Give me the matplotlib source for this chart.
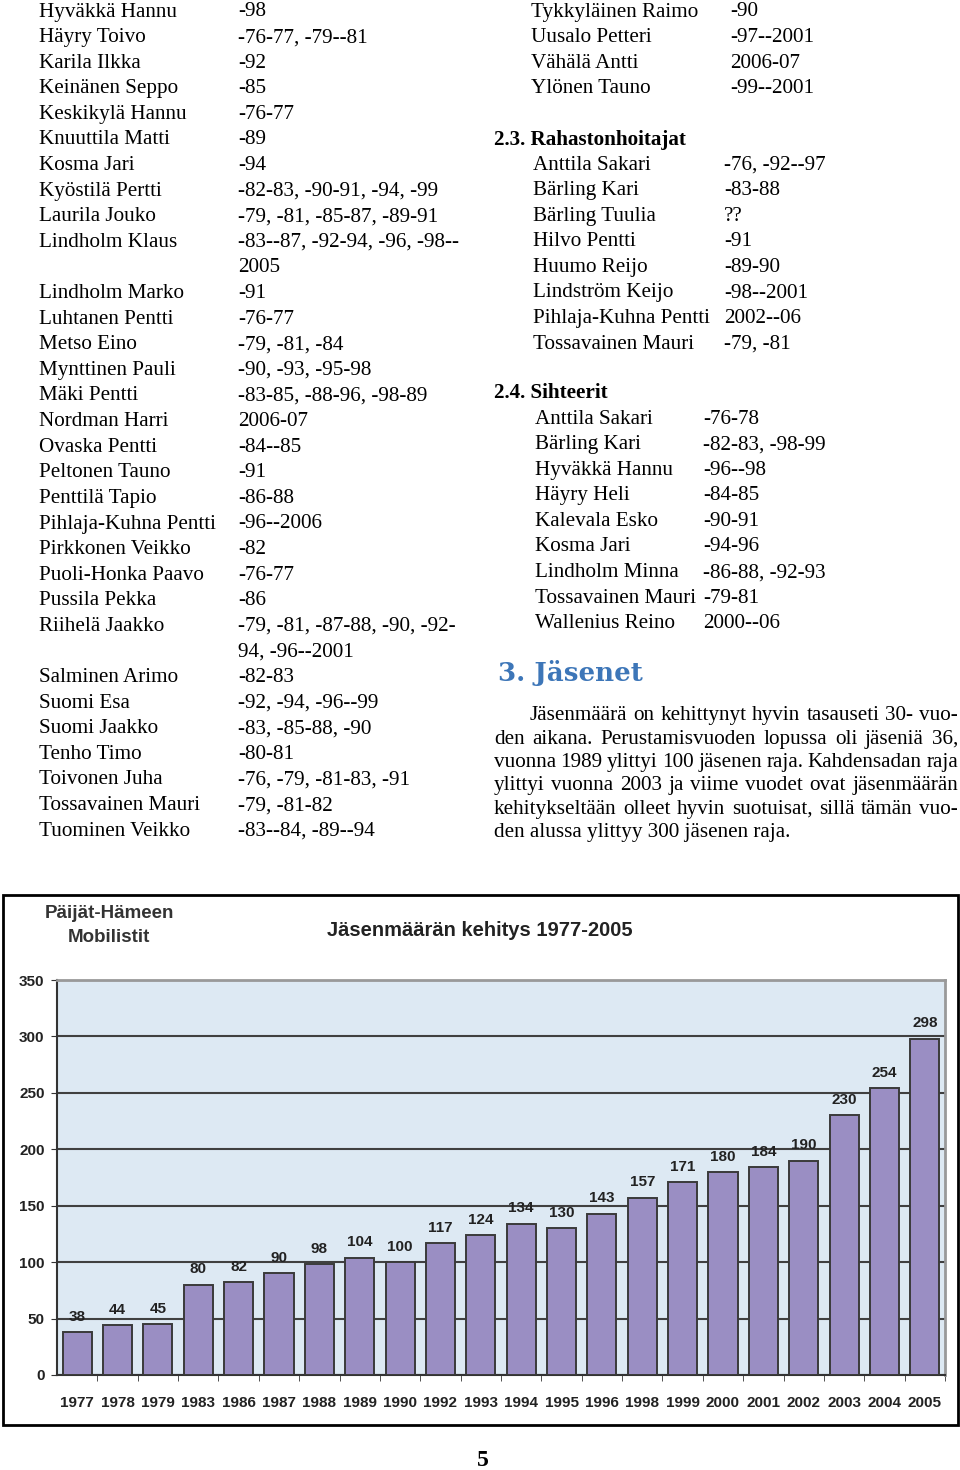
import matplotlib
matplotlib.use("Agg")
import matplotlib.pyplot as plt
from matplotlib.patches import Rectangle
from matplotlib.font_manager import FontProperties

W, H = 960, 1470

# --- page text -------------------------------------------------------------
members_names = ["Hyväkkä Hannu", "Häyry Toivo", "Karila Ilkka", "Keinänen Seppo",
                 "Keskikylä Hannu", "Knuuttila Matti", "Kosma Jari", "Kyöstilä Pertti",
                 "Laurila Jouko", "Lindholm Klaus", "", "Lindholm Marko", "Luhtanen Pentti",
                 "Metso Eino", "Mynttinen Pauli", "Mäki Pentti", "Nordman Harri",
                 "Ovaska Pentti", "Peltonen Tauno", "Penttilä Tapio", "Pihlaja-Kuhna Pentti",
                 "Pirkkonen Veikko", "Puoli-Honka Paavo", "Pussila Pekka", "Riihelä Jaakko", "",
                 "Salminen Arimo", "Suomi Esa", "Suomi Jaakko", "Tenho Timo", "Toivonen Juha",
                 "Tossavainen Mauri", "Tuominen Veikko"]
members_years = ["-98", "-76-77, -79--81", "-92", "-85", "-76-77", "-89", "-94",
                 "-82-83, -90-91, -94, -99", "-79, -81, -85-87, -89-91",
                 "-83--87, -92-94, -96, -98--", "2005", "-91", "-76-77", "-79, -81, -84",
                 "-90, -93, -95-98", "-83-85, -88-96, -98-89", "2006-07", "-84--85", "-91",
                 "-86-88", "-96--2006", "-82", "-76-77", "-86", "-79, -81, -87-88, -90, -92-",
                 "94, -96--2001", "-82-83", "-92, -94, -96--99", "-83, -85-88, -90", "-80-81",
                 "-76, -79, -81-83, -91", "-79, -81-82", "-83--84, -89--94"]

cont_names = ["Tykkyläinen Raimo", "Uusalo Petteri", "Vähälä Antti", "Ylönen Tauno"]
cont_years = ["-90", "-97--2001", "2006-07", "-99--2001"]

treasurer_names = ["Anttila Sakari", "Bärling Kari", "Bärling Tuulia", "Hilvo Pentti",
                   "Huumo Reijo", "Lindström Keijo", "Pihlaja-Kuhna Pentti", "Tossavainen Mauri"]
treasurer_years = ["-76, -92--97", "-83-88", "??", "-91", "-89-90", "-98--2001", "2002--06",
                   "-79, -81"]

secretary_names = ["Anttila Sakari", "Bärling Kari", "Hyväkkä Hannu", "Häyry Heli",
                   "Kalevala Esko", "Kosma Jari", "Lindholm Minna", "Tossavainen Mauri",
                   "Wallenius Reino"]
secretary_years = ["-76-78", "-82-83, -98-99", "-96--98", "-84-85", "-90-91", "-94-96",
                   "-86-88, -92-93", "-79-81", "2000--06"]

paragraph_lines = ["Jäsenmäärä on kehittynyt hyvin tasauseti 30- vuo-",
                   "den aikana.  Perustamisvuoden lopussa oli jäseniä 36,",
                   "vuonna 1989 ylittyi 100 jäsenen raja.  Kahdensadan raja",
                   "ylittyi vuonna 2003 ja viime vuodet ovat jäsenmäärän",
                   "kehitykseltään olleet hyvin suotuisat, sillä tämän vuo-",
                   "den alussa ylittyy 300 jäsenen raja."]

# --- chart data --------------------------------------------------------------
years = ["1977", "1978", "1979", "1983", "1986", "1987", "1988", "1989", "1990", "1992",
         "1993", "1994", "1995", "1996", "1998", "1999", "2000", "2001", "2002", "2003",
         "2004", "2005"]
members = [38, 44, 45, 80, 82, 90, 98, 104, 100, 117, 124, 134, 130, 143, 157, 171, 180,
           184, 190, 230, 254, 298]

SERIF = "Liberation Serif"
SANS = "Liberation Sans"
BODY = 15.2

fig = plt.figure(figsize=(W / 100, H / 100), dpi=100)


def put(x, y, s, **kw):
    kw.setdefault("family", SERIF)
    kw.setdefault("size", BODY)
    kw.setdefault("va", "center")
    return fig.text(x / W, 1 - y / H, s, **kw)


def table(names, dates, x_name, x_date, y0, step=25.6):
    for i, (n, d) in enumerate(zip(names, dates)):
        y = y0 + i * step
        put(x_name, y, n)
        put(x_date, y, d)


table(members_names, members_years, 39, 238, 12)
table(cont_names, cont_years, 531, 730, 12)
put(494, 140, "2.3. Rahastonhoitajat", weight="bold")
table(treasurer_names, treasurer_years, 533, 724, 165)
put(494, 393, "2.4. Sihteerit", weight="bold")
table(secretary_names, secretary_years, 535, 703, 419)

put(498, 673, "3. Jäsenet", family="DejaVu Serif", weight="bold", size=18.8, color="#3d76b8")

# justified paragraph
renderer = fig.canvas.get_renderer()
fp = FontProperties(family=SERIF, size=BODY)


def width(s):
    w, _, _ = renderer.get_text_width_height_descent(s, fp, ismath=False)
    return w


x_right = 958
for i, line in enumerate(paragraph_lines):
    y = 716 + i * 23.3
    x0 = 530 if i == 0 else 494
    if i == len(paragraph_lines) - 1:
        put(x0, y, line)
        continue
    words = line.split()
    total = sum(width(w) for w in words)
    gap = (x_right - x0 - total) / (len(words) - 1)
    x = x0
    for w in words:
        put(x, y, w)
        x += width(w) + gap

put(483, 1461, "5", weight="bold", size=17, ha="center")

# --- chart ---------------------------------------------------------------------
fig.patches.append(Rectangle((3 / W, 1 - 1425 / H), 955 / W, 530 / H, transform=fig.transFigure,
                             fill=False, edgecolor="black", linewidth=2))
put(109, 914, "Päijät-Hämeen", family=SANS, weight="bold", size=13.5, ha="center", color="#333333")
put(109, 938, "Mobilistit", family=SANS, weight="bold", size=13.5, ha="center", color="#333333")
put(480, 930, "Jäsenmäärän kehitys 1977-2005", family=SANS, weight="bold", size=14.5,
    ha="center", color="#222222")

ax = fig.add_axes([57 / W, 1 - 1375 / H, 888 / W, 395 / H])
ax.set_facecolor("#dde9f3")
x = range(len(years))
bars = ax.bar(x, members, width=0.72, color="#9a8ec3", edgecolor="#3a3a3a", linewidth=1.4,
              zorder=3)
ax.bar_label(bars, padding=6, family=SANS, weight="bold", size=11, color="#222222")
ax.set_ylim(0, 350)
ax.set_xlim(-0.5, len(years) - 0.5)
ax.set_yticks(range(0, 351, 50))
ax.set_xticks(list(x))
ax.set_xticklabels(years)
ax.set_xticks([i + 0.5 for i in range(len(years))], minor=True)
ax.tick_params(axis="x", which="major", length=0, pad=15)
ax.tick_params(axis="x", which="minor", length=4, color="#333333")
ax.tick_params(axis="y", length=4, pad=5, color="#333333")
for lab in ax.get_xticklabels() + ax.get_yticklabels():
    lab.set_family(SANS)
    lab.set_weight("bold")
    lab.set_fontsize(11)
    lab.set_color("#222222")
ax.yaxis.grid(True, color="#404040", linewidth=1.5, zorder=1)
ax.set_axisbelow(True)
ax.spines["left"].set_color("#333333")
ax.spines["left"].set_linewidth(1.5)
ax.spines["bottom"].set_color("#333333")
ax.spines["bottom"].set_linewidth(1.5)
ax.spines["top"].set_color("#999999")
ax.spines["top"].set_linewidth(2)
ax.spines["right"].set_color("#999999")
ax.spines["right"].set_linewidth(2)

fig.savefig("out.png", dpi=100, facecolor="white")
